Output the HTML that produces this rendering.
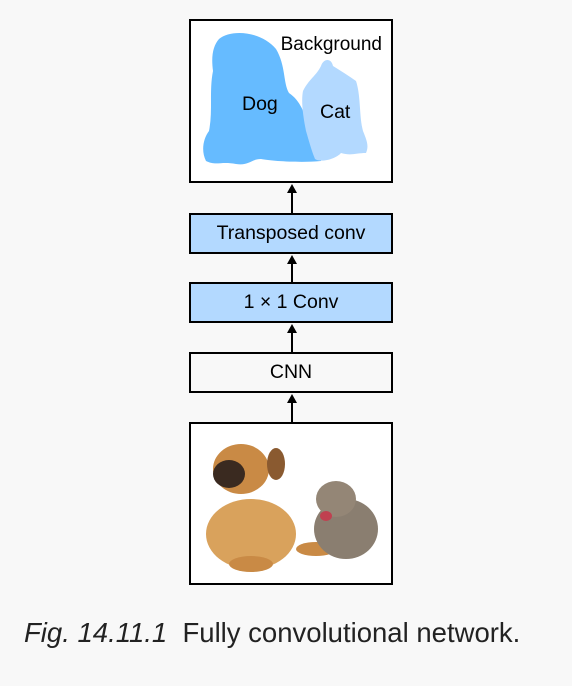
<!DOCTYPE html>
<html><head><style>
body{margin:0;width:572px;height:686px;background:#f8f8f8;font-family:"Liberation Sans",sans-serif;position:relative;overflow:hidden}
.b{position:absolute;left:189px;width:204px;border:2px solid #000;box-sizing:border-box;text-align:center;font-size:19.5px;color:#000}
.a{position:absolute;left:291px;width:2px;background:#000}
.h{position:absolute;left:287px;width:0;height:0;border-left:5px solid transparent;border-right:5px solid transparent;border-bottom:9px solid #000}
.cap{position:absolute;left:24px;top:617px;font-size:27.5px;color:#222;white-space:nowrap}
</style></head><body>
<div class="b" style="top:19px;height:164px;background:#fff">
<svg width="200" height="160" style="position:absolute;left:0;top:0">
<path d="M28 18 C40 8 70 10 85 28 C95 45 92 62 98 72 C110 80 115 95 118 110 C128 115 132 130 130 140 C110 142 80 140 70 138 C60 138 58 145 45 143 C30 140 25 145 15 140 C10 130 12 118 18 110 C22 90 18 70 22 50 C20 35 22 25 28 18Z" fill="#66bbff"/>
<path d="M130 45 C132 38 140 36 142 45 C150 50 158 55 165 60 C170 75 168 95 172 110 C176 120 178 125 175 132 C165 132 160 135 150 132 C145 138 130 142 124 138 C120 128 118 120 115 110 C112 95 110 80 112 70 C118 58 125 55 130 45Z" fill="#b3d9ff"/>
<text x="191" y="29" text-anchor="end" font-size="19" font-family="Liberation Sans">Background</text>
<text x="51" y="89" font-size="19.5" font-family="Liberation Sans">Dog</text>
<text x="129" y="97" font-size="19.5" font-family="Liberation Sans">Cat</text>
</svg></div>
<div class="a" style="top:192px;height:22px"></div><div class="h" style="top:184px"></div>
<div class="b" style="top:213px;height:41px;line-height:37px;background:#b3d9ff">Transposed conv</div>
<div class="a" style="top:262px;height:22px"></div><div class="h" style="top:255px"></div>
<div class="b" style="top:282px;height:41px;line-height:37px;background:#b3d9ff">1 × 1 Conv</div>
<div class="a" style="top:332px;height:22px"></div><div class="h" style="top:324px"></div>
<div class="b" style="top:352px;height:41px;line-height:37px;background:#f8f8f8">CNN</div>
<div class="a" style="top:402px;height:22px"></div><div class="h" style="top:394px"></div>
<div class="b" style="top:422px;height:163px;background:#fff">
<svg width="200" height="160" style="position:absolute;left:0;top:0">
<ellipse cx="60" cy="110" rx="45" ry="35" fill="#d9a25c"/>
<ellipse cx="50" cy="45" rx="28" ry="25" fill="#c98a45"/>
<ellipse cx="38" cy="50" rx="16" ry="14" fill="#3a2a20"/>
<ellipse cx="85" cy="40" rx="9" ry="16" fill="#8a5a30"/>
<ellipse cx="60" cy="140" rx="22" ry="8" fill="#c98a45"/>
<ellipse cx="125" cy="125" rx="20" ry="7" fill="#c98a45"/>
<ellipse cx="155" cy="105" rx="32" ry="30" fill="#8a7e70"/>
<ellipse cx="145" cy="75" rx="20" ry="18" fill="#948676"/>
<ellipse cx="135" cy="92" rx="6" ry="5" fill="#c04050"/>
</svg></div>
<div class="cap"><i>Fig. 14.11.1</i>&nbsp; Fully convolutional network.</div>
</body></html>
